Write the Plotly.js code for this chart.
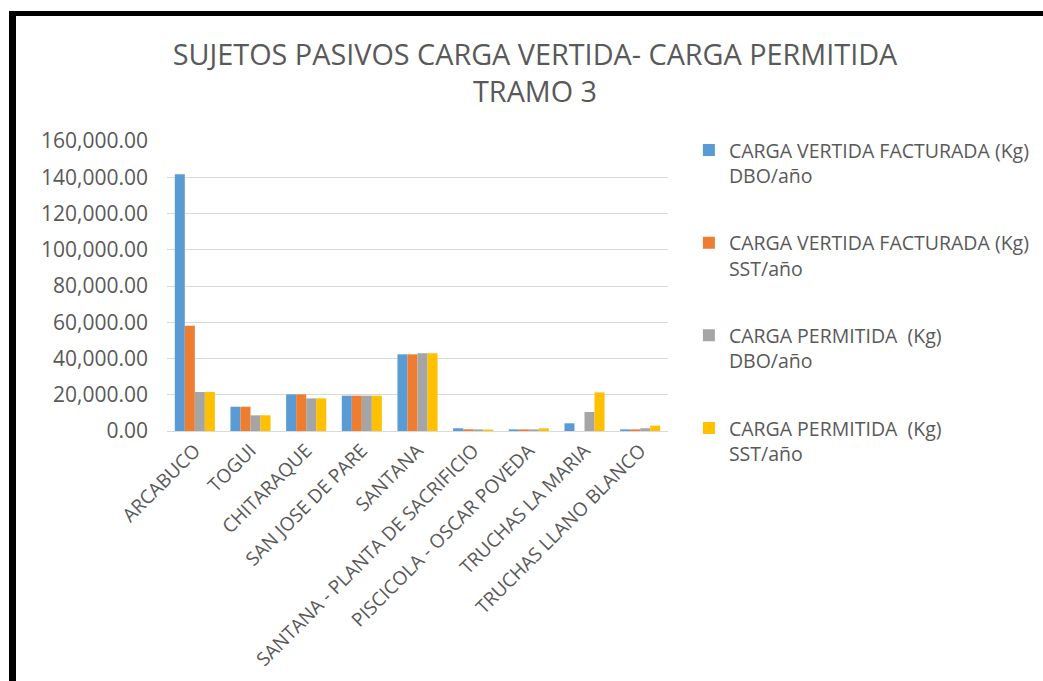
<!DOCTYPE html>
<html>
<head>
<meta charset="utf-8">
<script src="https://cdn.plot.ly/plotly-3.0.1.min.js"></script>
<style>
  html, body { margin: 0; padding: 0; background: #fff; }
  #wrap { position: relative; width: 1043px; height: 681px; overflow: hidden; }
  #chart { position: absolute; left: 0; top: 0; width: 1043px; height: 681px; }
  #frame { position: absolute; left: 9px; top: 11px; width: 1100px; height: 700px;
           border-top: 5px solid #000; border-left: 7px solid #000; pointer-events: none; }
</style>
</head>
<body>
<div id="wrap">
  <div id="chart"></div>
  <div id="frame"></div>
</div>
<script>
const categories = ["ARCABUCO", "TOGUI", "CHITARAQUE", "SAN JOSE DE PARE", "SANTANA",
  "SANTANA - PLANTA DE SACRIFICIO", "PISCICOLA - OSCAR POVEDA", "TRUCHAS LA MARIA", "TRUCHAS LLANO BLANCO"];
const vertidaDBO = [141600, 13400, 20200, 19500, 42300, 1500, 900, 4250, 900];
const vertidaSST = [58100, 13400, 20200, 19500, 42300, 950, 900, 0, 900];
const permitidaDBO = [21500, 8650, 18000, 19500, 42900, 900, 900, 10500, 1500];
const permitidaSST = [21500, 8650, 18000, 19500, 42900, 800, 1500, 21300, 2950];
const seriesNames = [
  "CARGA VERTIDA FACTURADA (Kg)<br>DBO/año",
  "CARGA VERTIDA FACTURADA (Kg)<br>SST/año",
  "CARGA PERMITIDA  (Kg)<br>DBO/año",
  "CARGA PERMITIDA  (Kg)<br>SST/año"
];
const seriesValues = [vertidaDBO, vertidaSST, permitidaDBO, permitidaSST];
const colors = ["#5B9BD5", "#ED7D31", "#A5A5A5", "#FFC000"];

const font = "'Open Sans', 'Noto Sans', sans-serif";
const traces = seriesValues.map((vals, i) => ({
  type: 'bar',
  x: categories,
  y: vals,
  name: seriesNames[i],
  legendgroup: 'g' + i,
  marker: { color: colors[i] },
  hoverinfo: 'x+y+name'
}));

const layout = {
  width: 1043, height: 681,
  paper_bgcolor: '#fff', plot_bgcolor: '#fff',
  font: { family: font, color: '#595959' },
  title: {
    text: 'SUJETOS PASIVOS CARGA VERTIDA- CARGA PERMITIDA<br>TRAMO 3',
    font: { family: font, size: 28.8, color: '#595959' },
    x: 0.513, xanchor: 'center', y: 0.905, yanchor: 'top'
  },
  margin: { l: 167, r: 375, t: 141, b: 250 },
  barmode: 'group', bargap: 0.28, bargroupgap: 0,
  xaxis: {
    type: 'category',
    tickangle: -45,
    tickfont: { family: font, size: 19, color: '#595959' },
    showgrid: false, showline: true, linecolor: '#D9D9D9', linewidth: 1,
    ticks: '', automargin: false
  },
  yaxis: {
    range: [0, 160000],
    dtick: 20000,
    tickformat: ',.2f',
    tickfont: { family: font, size: 21, color: '#595959' },
    ticklabelstandoff: 18,
    showgrid: true, gridcolor: '#D9D9D9', gridwidth: 1,
    zeroline: true, zerolinecolor: '#D9D9D9',
    showline: false, ticks: '', ticklen: 0, automargin: false
  },
  legend: {
    xref: 'container', yref: 'container',
    x: 0.6605, xanchor: 'left', y: 0.808, yanchor: 'top',
    font: { family: font, size: 19.5, color: '#595959' },
    tracegroupgap: 39, valign: 'top',
    itemwidth: 30
  },
  showlegend: true
};

Plotly.newPlot('chart', traces, layout, { displayModeBar: false, staticPlot: true });
</script>
</body>
</html>
